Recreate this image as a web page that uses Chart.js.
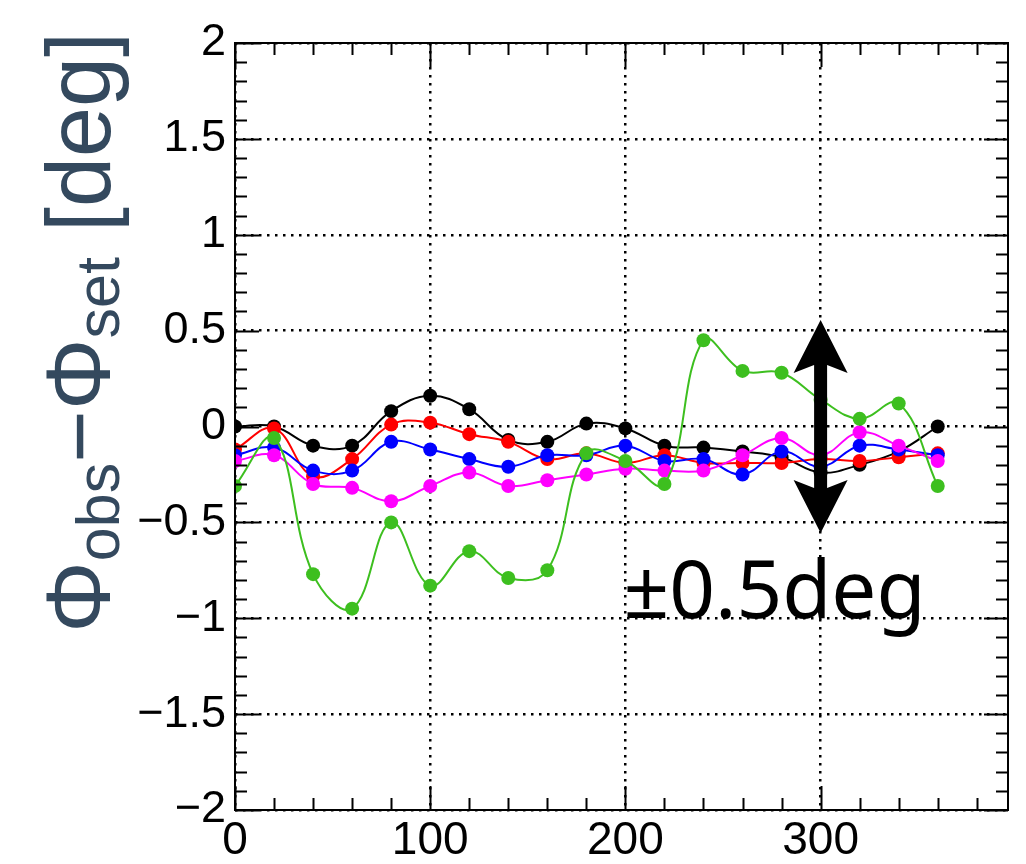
<!DOCTYPE html>
<html>
<head>
<meta charset="utf-8">
<script src="https://cdn.jsdelivr.net/npm/chart.js@4/dist/chart.umd.min.js"></script>
<style>
  html, body { margin: 0; padding: 0; background: #fff; }
  #wrap { width: 1026px; height: 864px; }
</style>
</head>
<body>
<div id="wrap"><canvas id="chart" width="1026" height="864"></canvas></div>
<script>
// angle setting [deg]
const xValues = [0, 20, 40, 60, 80, 100, 120, 140, 160, 180, 200, 220, 240, 260, 280, 300, 320, 340, 360];

// phi_obs - phi_set [deg], one list per run
const seriesBlack   = [0.00, 0.00, -0.10, -0.10, 0.08, 0.16, 0.09, -0.07, -0.08, 0.015, -0.01, -0.10, -0.11, -0.13, -0.16, -0.24, -0.20, -0.13, 0.00];
const seriesRed     = [-0.12, -0.01, -0.26, -0.17, 0.01, 0.02, -0.04, -0.08, -0.17, -0.14, -0.19, -0.15, -0.19, -0.19, -0.19, -0.17, -0.18, -0.16, -0.14];
const seriesBlue    = [-0.15, -0.11, -0.23, -0.23, -0.08, -0.12, -0.17, -0.21, -0.15, -0.15, -0.10, -0.18, -0.17, -0.25, -0.13, -0.21, -0.10, -0.12, -0.15];
const seriesMagenta = [-0.18, -0.15, -0.30, -0.32, -0.39, -0.31, -0.24, -0.31, -0.28, -0.25, -0.22, -0.23, -0.23, -0.15, -0.06, -0.15, -0.03, -0.10, -0.18];
const seriesGreen   = [-0.31, -0.06, -0.77, -0.95, -0.50, -0.83, -0.65, -0.79, -0.75, -0.14, -0.18, -0.30, 0.45, 0.29, 0.28, 0.14, 0.04, 0.12, -0.31];

// axes
const xRange = [0, 396];
const yRange = [-2, 2];
const xTickValues = [0, 100, 200, 300];
const yTickValues = [-2, -1.5, -1, -0.5, 0, 0.5, 1, 1.5, 2];
const xMinorStep = 20;
const yMinorStep = 0.1;

// "±0.5deg" marker
const arrowX = 300;
const arrowTip = 0.556;
const noteText = '\u00b10.5deg';
const notePos = [199, -1.0];

const TICK_FAMILY = '"Liberation Sans", Arial, sans-serif';
const TITLE_COLOR = '#34495e';

function series(label, data, color) {
  return {
    label,
    data: xValues.map((x, i) => ({ x, y: data[i] })),
    borderColor: color,
    backgroundColor: color,
    borderWidth: 2,
    pointRadius: 7,
    pointHoverRadius: 7,
    pointBorderWidth: 0,
    tension: 0.4,
    fill: false,
  };
}

const isMajor = (v, majors) => majors.some(m => Math.abs(m - v) < 1e-6);

const decorations = {
  id: 'decorations',
  afterDraw(chart) {
    const { ctx, chartArea: a, scales: { x, y } } = chart;
    ctx.save();

    // frame
    ctx.strokeStyle = '#000';
    ctx.lineWidth = 2;
    ctx.strokeRect(a.left, a.top, a.right - a.left, a.bottom - a.top);

    // inward ticks on all four sides
    ctx.beginPath();
    for (let k = 0; xRange[0] + k * xMinorStep <= xRange[1]; k++) {
      const v = xRange[0] + k * xMinorStep;
      const px = Math.round(x.getPixelForValue(v)) + 0.5;
      const len = isMajor(v, xTickValues) ? 24 : 12;
      ctx.moveTo(px, a.bottom); ctx.lineTo(px, a.bottom - len);
      ctx.moveTo(px, a.top); ctx.lineTo(px, a.top + len);
    }
    const nY = Math.round((yRange[1] - yRange[0]) / yMinorStep);
    for (let k = 0; k <= nY; k++) {
      const v = yRange[0] + k * yMinorStep;
      const py = Math.round(y.getPixelForValue(v)) + 0.5;
      const len = isMajor(v, yTickValues) ? 24 : 12;
      ctx.moveTo(a.left, py); ctx.lineTo(a.left + len, py);
      ctx.moveTo(a.right, py); ctx.lineTo(a.right - len, py);
    }
    ctx.stroke();

    // double arrow
    const ax = x.getPixelForValue(arrowX);
    const top = y.getPixelForValue(arrowTip);
    const bot = y.getPixelForValue(-arrowTip);
    const headL = 53, headW = 27, shaft = 6.5;
    ctx.fillStyle = '#000';
    ctx.beginPath();
    ctx.moveTo(ax, top);
    ctx.lineTo(ax + headW, top + headL);
    ctx.lineTo(ax + shaft, top + headL - 8);
    ctx.lineTo(ax + shaft, bot - headL + 8);
    ctx.lineTo(ax + headW, bot - headL);
    ctx.lineTo(ax, bot);
    ctx.lineTo(ax - headW, bot - headL);
    ctx.lineTo(ax - shaft, bot - headL + 8);
    ctx.lineTo(ax - shaft, top + headL - 8);
    ctx.lineTo(ax - headW, top + headL);
    ctx.closePath();
    ctx.fill();

    // note text
    ctx.font = '80px "Noto Sans", sans-serif';
    ctx.textAlign = 'left';
    ctx.textBaseline = 'alphabetic';
    ctx.fillText(noteText, x.getPixelForValue(notePos[0]), y.getPixelForValue(notePos[1]));

    // y axis title with subscripts, reading bottom to top
    ctx.translate(110, 633);
    ctx.rotate(-Math.PI / 2);
    ctx.fillStyle = TITLE_COLOR;
    const big = '90px ' + TICK_FAMILY;
    const small = '61px ' + TICK_FAMILY;
    const parts = [
      ['\u03a6', big, 0], ['obs', small, 9], ['\u2212', big, 0],
      ['\u03a6', big, 0], ['set', small, 9], [' [deg]', big, 0],
    ];
    let cx = 0;
    parts.forEach(([t, f, dy]) => {
      ctx.font = f;
      ctx.fillText(t, cx, dy);
      cx += ctx.measureText(t).width;
    });

    ctx.restore();
  }
};

const gridOpts = { color: '#000', lineWidth: 2.5, drawTicks: false };
const borderOpts = { display: false, dash: [2.5, 5.5] };

new Chart(document.getElementById('chart'), {
  type: 'line',
  data: {
    datasets: [
      series('green', seriesGreen, '#3dbf1f'),
      series('magenta', seriesMagenta, '#ff00ff'),
      series('blue', seriesBlue, '#0000ff'),
      series('red', seriesRed, '#ff0000'),
      series('black', seriesBlack, '#000000'),
    ],
  },
  options: {
    responsive: false,
    animation: false,
    events: [],
    layout: { padding: { top: 43, right: 18, left: 0, bottom: 0 } },
    plugins: { legend: { display: false }, tooltip: { enabled: false } },
    scales: {
      x: {
        type: 'linear',
        min: xRange[0],
        max: xRange[1],
        afterBuildTicks: s => { s.ticks = xTickValues.map(value => ({ value })); },
        afterFit: s => { s.height = 54; },
        border: borderOpts,
        grid: gridOpts,
        ticks: {
          autoSkip: false,
          maxRotation: 0,
          minRotation: 0,
          padding: 4,
          color: '#000',
          font: { family: TICK_FAMILY, size: 46 },
          callback: v => String(v),
        },
      },
      y: {
        type: 'linear',
        min: yRange[0],
        max: yRange[1],
        afterBuildTicks: s => { s.ticks = yTickValues.map(value => ({ value })); },
        afterFit: s => { s.width = 235; },
        border: borderOpts,
        grid: gridOpts,
        ticks: {
          autoSkip: false,
          padding: 9,
          color: '#000',
          font: { family: TICK_FAMILY, size: 45 },
          callback: v => String(v).replace('-', '\u2212'),
        },
      },
    },
  },
  plugins: [decorations],
});
</script>
</body>
</html>
